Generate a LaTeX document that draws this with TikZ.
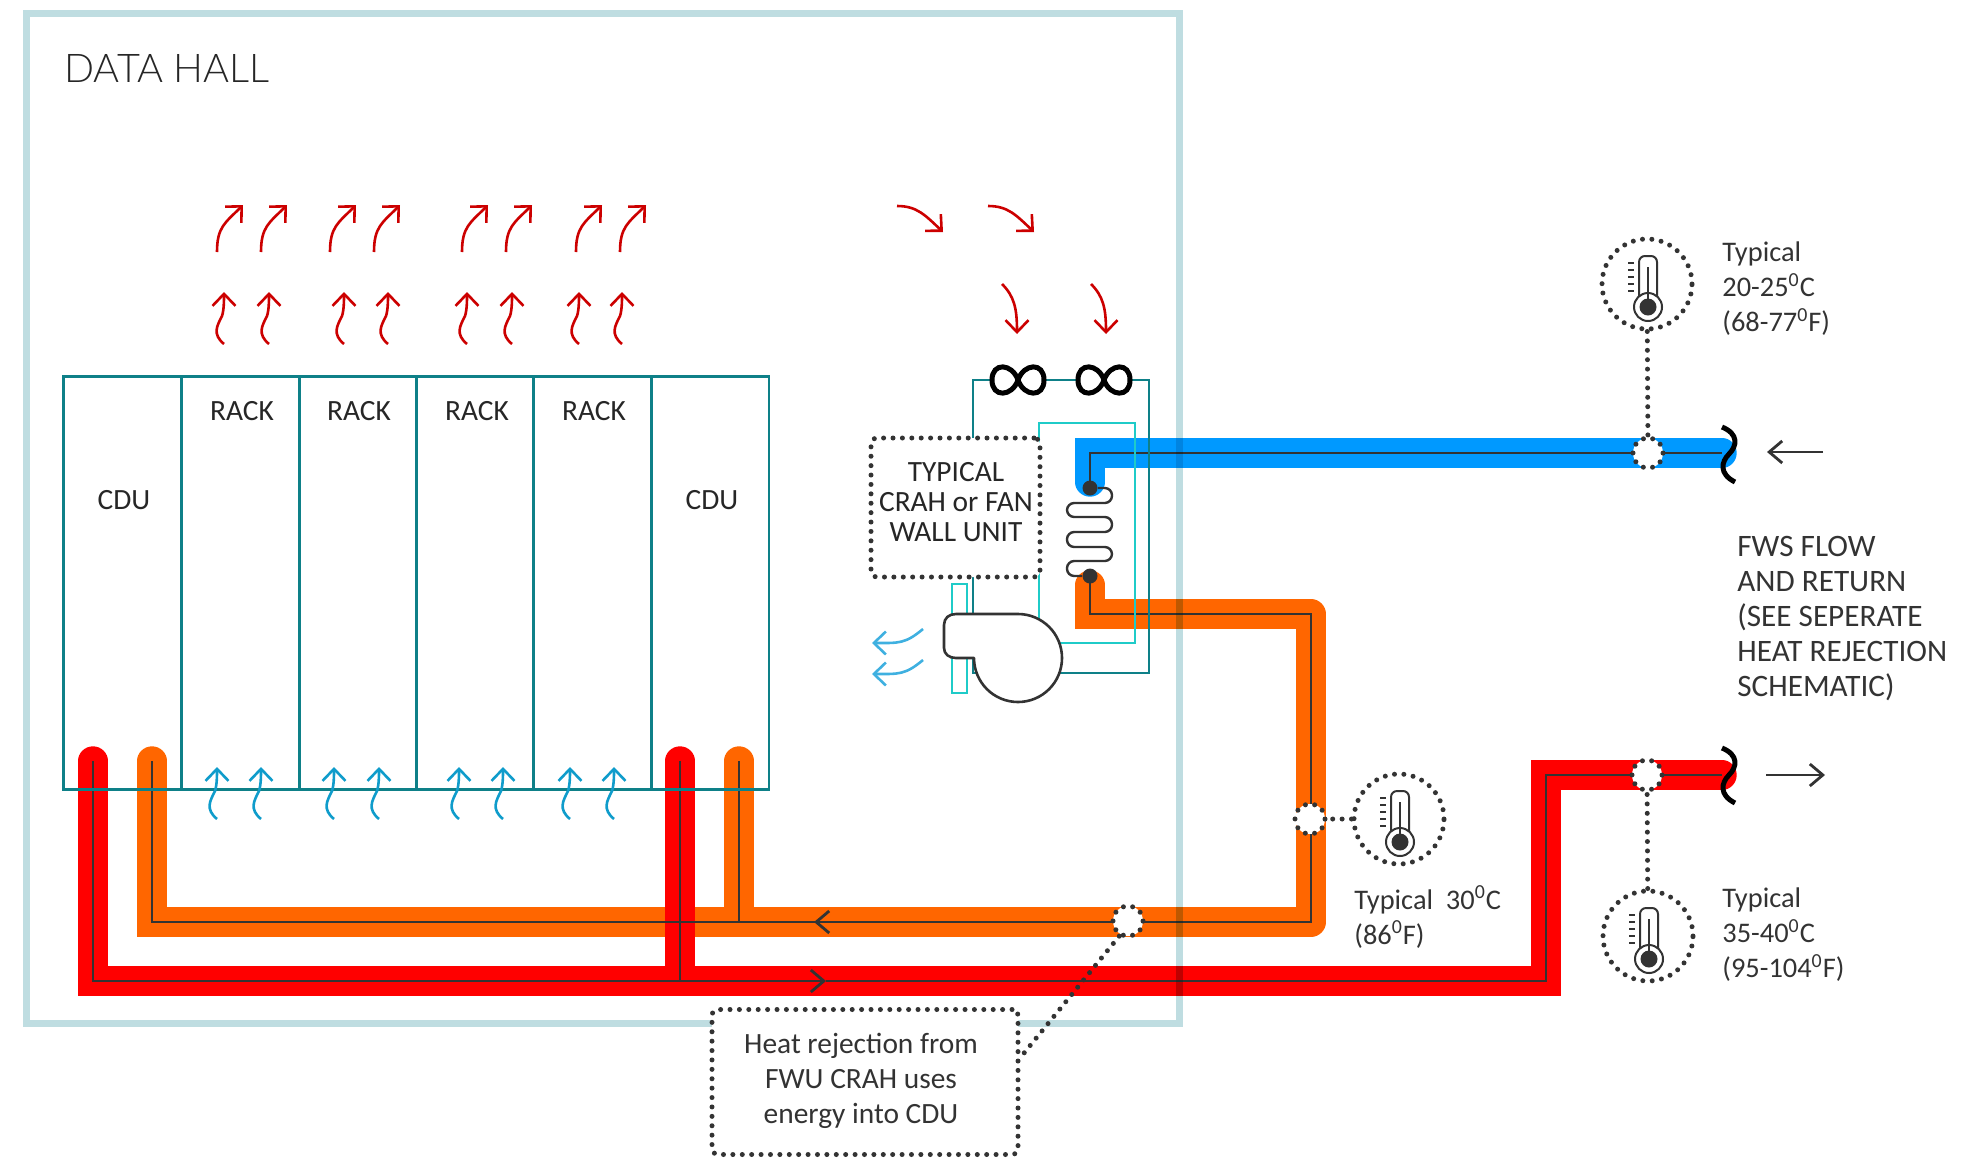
\documentclass[tikz,border=0pt]{standalone}
\usepackage{fontspec}
\setmainfont{Carlito}
\newfontfamily\hallfont{Lato Light}
\usepackage{tikz}
\usetikzlibrary{arrows.meta}
\definecolor{halledge}{HTML}{BFDDE1}
\definecolor{rackline}{HTML}{0E8088}
\definecolor{hotpipe}{HTML}{FF0000}
\definecolor{warmpipe}{HTML}{FF6600}
\definecolor{coldpipe}{HTML}{0099FF}
\definecolor{inkdark}{HTML}{333333}
\definecolor{airred}{HTML}{CC0000}
\definecolor{airblue}{HTML}{0F9CCB}
\definecolor{airpale}{HTML}{3FB0E0}
\definecolor{filterline}{HTML}{1FCBC8}
\tikzset{
  lab/.style = {inner sep=0pt, text=inkdark, font=\fontsize{14.7}{17.5}\selectfont},
  capslab/.style = {inner sep=0pt, text=black!85, font=\fontsize{14.7}{17.5}\selectfont},
  labl/.style = {lab, anchor=west, align=left, font=\fontsize{14.2}{17.5}\selectfont},
  pipe/.style = {line width=14.7pt, line cap=round, line join=miter},
  core/.style = {draw=inkdark, line width=1.4pt},
  barb/.style = {-{Straight Barb[length=6.5pt,width=11pt,line width=1.4pt]}},
  tipair/.style = {-{Straight Barb[length=6pt,width=11.5pt,line width=1.3pt]}},
  rack/.style = {draw=rackline, line width=1.3pt, minimum width=58.75pt, minimum height=206.5pt, inner sep=0pt, anchor=north west},
  dots/.style = {draw=inkdark, line width=2.5pt, line cap=round, dash pattern=on 0pt off 4.7pt},
  sensor/.style = {dots, circle, fill=white, minimum size=15pt, inner sep=0pt},
  probe/.style = {dots, circle, minimum size=45pt, inner sep=0pt},
  notebox/.style = {dots, rounded corners=3pt, fill=white, inner sep=0pt},
  knob/.style = {circle, fill=inkdark, minimum size=7.5pt, inner sep=0pt},
  pics/therm/.style = {code = {
    \draw[draw=inkdark, line width=1pt, rounded corners=3pt] (-8,13) -- (-8,-28) -- (10,-28) -- (10,13);
    \draw[draw=inkdark, line width=1pt, fill=white] (1,23) circle[radius=7pt];
    \fill[inkdark] (1,23) circle[radius=4.25pt];
    \draw[draw=inkdark, line width=1.2pt] (1,-17) -- (1,23);
    \foreach \t in {-21,-14,-7,0,7} {\draw[draw=inkdark, line width=.8pt] (-19,\t) -- (-13,\t);}
  }},
  pics/coilmark/.style = {code = {
    \draw[draw=black, line width=2.5pt, fill=white] (0,0) .. controls (6,-17) and (26,-18) .. (26,0) .. controls (26,18) and (6,17) .. (0,0) .. controls (-6,-17) and (-26,-18) .. (-26,0) .. controls (-26,18) and (-6,17) .. (0,0) -- cycle;
  }},
  pics/breakmark/.style = {code = {
    \draw[draw=black, line width=2.5pt] (-7,-27) .. controls (10,-20) and (8,-8) .. (0,0) .. controls (-8,8) and (-10,20) .. (6,28);
  }},
  pics/riser/.style = {code = {
    \draw[draw=#1, line width=1.3pt, tipair] (0,0) .. controls (-12,-10) and (-7,-18) .. (-2,-28) .. controls (0,-34) and (0,-44) .. (0,-52);
  }},
  pics/sweep/.style = {code = {
    \draw[draw=airred, line width=1.3pt, tipair] (0,0) .. controls (0,-25) and (8,-29) .. (26,-47);
  }},
  pics/swing/.style = {code = {
    \draw[draw=airred, line width=1.3pt, tipair] (0,0) .. controls (20,0) and (28,9) .. (46,26);
  }},
  pics/drop/.style = {code = {
    \draw[draw=airred, line width=1.3pt, tipair] (0,0) .. controls (12,12) and (15,24) .. (15,50);
  }},
  pics/gust/.style = {code = {
    \draw[draw=airpale, line width=1.3pt, tipair] (0,0) .. controls (-18,15) and (-24,14) .. (-51,14);
  }},
}
\begin{document}
\begin{tikzpicture}[x=0.5pt, y=-0.5pt]
\useasboundingbox (0,0) rectangle (1986,1158);
% pipe routes
\coordinate (Ca) at (1090,488);
\coordinate (Cb) at (1090,453);
\coordinate (Cc) at (1722,453);
\coordinate (Wa) at (1090,576);
\coordinate (Wb) at (1090,614);
\coordinate (Wc) at (1311,614);
\coordinate (Wd) at (1311,922);
\coordinate (We) at (152,922);
\coordinate (Wf) at (152,761);
\coordinate (Wg) at (739,761);
\coordinate (Wh) at (739,922);
\coordinate (Wi) at (814,922);
\coordinate (Wj) at (1250,614);
\coordinate (Ra) at (93,761);
\coordinate (Rb) at (93,981);
\coordinate (Rc) at (1546,981);
\coordinate (Rd) at (1546,775);
\coordinate (Re) at (1722,775);
\coordinate (Rf) at (680,761);
\coordinate (Rg) at (680,981);
\coordinate (Ri) at (826,981);
% pipes
\draw[pipe, warmpipe] (Wf) -- (We) -- (Wh);
\draw[pipe, warmpipe] (Wg) -- (Wh);
\draw[warmpipe, line width=14.7pt, line cap=round, line join=round] (Wh) -- (Wd) -- (Wc) -- (Wj);
\draw[pipe, warmpipe] (Wj) -- (Wb) -- ([yshift=-4.5pt]Wa);
\draw[pipe, coldpipe] (Cc) -- (Cb) -- ([yshift=3pt]Ca);
\draw[pipe, hotpipe] (Ra) -- (Rb) -- (Rc) -- (Rd) -- (Re);
\draw[pipe, hotpipe] (Rf) -- (Rg);
% core lines of the pipes
\draw[core, line join=miter] (Ra) -- (Rb) -- (Rg);
\draw[core] (Rf) -- (Rg);
\draw[core, barb] (Rg) -- (Ri);
\draw[core] (Ri) -- (Rc) -- (Rd) -- (Re);
\draw[core] (Wf) -- (We) -- (Wh);
\draw[core] (Wg) -- (Wh);
\draw[core] (Wa) -- (Wb) -- (Wc) -- (Wd) -- (Wi);
\draw[core, barb] (Wi) ++(1,0) -- (Wi);
\draw[core] (Wi) -- (Wh);
\draw[core] (Ca) -- (Cb) -- (Cc);
% racks
\foreach \n/\x in {a/62,b/180,c/298,d/415,e/532,f/650} {
  \node[rack] (rack\n) at (\x,375) {};
}
\node[capslab] (cdul) at (124,500) {CDU};
\node[capslab] (rackal) at (242,411) {RACK};
\node[capslab] (rackbl) at (359,411) {RACK};
\node[capslab] (rackcl) at (477,411) {RACK};
\node[capslab] (rackdl) at (594,411) {RACK};
\node[capslab] (cdur) at (712,500) {CDU};
% cooling unit
\draw[draw=filterline, line width=.8pt] (1039,423) rectangle (1135,643);
\draw[draw=filterline, line width=1.3pt] (952,584) rectangle (967,693);
\draw[draw=rackline, line width=1.3pt] (973,438) -- (973,380) -- (1149,380) -- (1149,673) -- (973,673) -- (973,577);
\pic at (1018,380) {coilmark};
\pic at (1104,380) {coilmark};
\draw[draw=inkdark, line width=1.3pt, fill=white, line join=round] (1018,614) -- (956,614) .. controls (949,614) and (944,618) .. (944,625) -- (944,648) .. controls (944,654) and (949,658) .. (956,658) -- (974,658) .. controls (974,682.3) and (993.7,702) .. (1018,702) .. controls (1042.3,702) and (1062,682.3) .. (1062,658) .. controls (1062,633.7) and (1042.3,614) .. (1018,614) -- cycle;
\node[knob] (inknob) at (Ca) {};
\node[knob] (outknob) at (Wa) {};
\draw[draw=inkdark, line width=1.2pt, rounded corners=3.6pt] (inknob) -- (1112,488) -- (1112,503) -- (1067,503) -- (1067,517) -- (1112,517) -- (1112,532) -- (1067,532) -- (1067,547) -- (1112,547) -- (1112,561) -- (1067,561) -- (1067,576) -- (outknob);
\node[notebox, minimum width=84.5pt, minimum height=69.5pt] (crahbox) at (955.5,507.5) {};
\node[capslab, align=center, font=\fontsize{14.7}{15}\selectfont] (crahlab) at (956,502) {TYPICAL\\CRAH or FAN\\WALL UNIT};
% hall
\draw[draw=halledge, line width=3.5pt, blend mode=multiply] (26,13) rectangle (1179,1023);
\node[capslab, anchor=west, font=\hallfont\fontsize{19.8}{24}\selectfont] (hall) at (64,68) {DATA HALL};
% air flow
\foreach \x in {217,261,330,374,462,506,576,620} {\pic at (\x,252) {sweep};}
\foreach \x in {224,269,344,388,467,512,579,622} {\pic at (\x,344) {riser=airred};}
\foreach \x in {217,261,334,379,459,503,570,614} {\pic at (\x,819) {riser=airblue};}
\pic at (897,206) {swing};
\pic at (988,206) {swing};
\pic at (1002,284) {drop};
\pic at (1091,284) {drop};
\pic at (923,629) {gust};
\pic at (923,660) {gust};
% sensors
\node[sensor] (colds) at (1648,453) {};
\node[sensor] (hots) at (1647,775) {};
\node[sensor] (warms) at (1310,819) {};
\node[sensor] (heats) at (1128,921) {};
\node[probe] (coldp) at (1647,284) {};
\node[probe] (warmp) at (1399,819) {};
\node[probe] (hotp) at (1648,936) {};
\pic at (coldp) {therm};
\pic at (warmp) {therm};
\pic at (hotp) {therm};
\draw[dots] (coldp) -- (colds);
\draw[dots] (warmp) -- (warms);
\draw[dots] (hotp) -- (hots);
\pic at (1729,454) {breakmark};
\pic at (1729,775) {breakmark};
\coordinate (Fa) at (1823,452);
\coordinate (Fb) at (1767,452);
\coordinate (Fc) at (1766,775);
\coordinate (Fd) at (1825,775);
\draw[core, line width=1pt, barb] (Fa) -- (Fb);
\draw[core, line width=1pt, barb] (Fc) -- (Fd);
% notes
\node[notebox, minimum width=153pt, minimum height=72.5pt] (heatnote) at (865,1082) {};
\node[lab, align=center] (heatlab) at (861,1081) {Heat rejection from\\FWU CRAH uses\\energy into CDU};
\draw[dots] (heats.240) -- (heatnote.9);
\node[labl] (coldt) at (1722,289) {Typical\\20-25\textsuperscript{0}C\\(68-77\textsuperscript{0}F)};
\node[labl, font=\fontsize{15.6}{17.5}\selectfont] (fwst) at (1737,619) {FWS FLOW\\AND RETURN\\(SEE SEPERATE\\HEAT REJECTION\\SCHEMATIC)};
\node[labl] (warmt) at (1354,917) {Typical~~30\textsuperscript{0}C\\(86\textsuperscript{0}F)};
\node[labl] (hott) at (1722,935) {Typical\\35-40\textsuperscript{0}C\\(95-104\textsuperscript{0}F)};
\end{tikzpicture}
\end{document}
